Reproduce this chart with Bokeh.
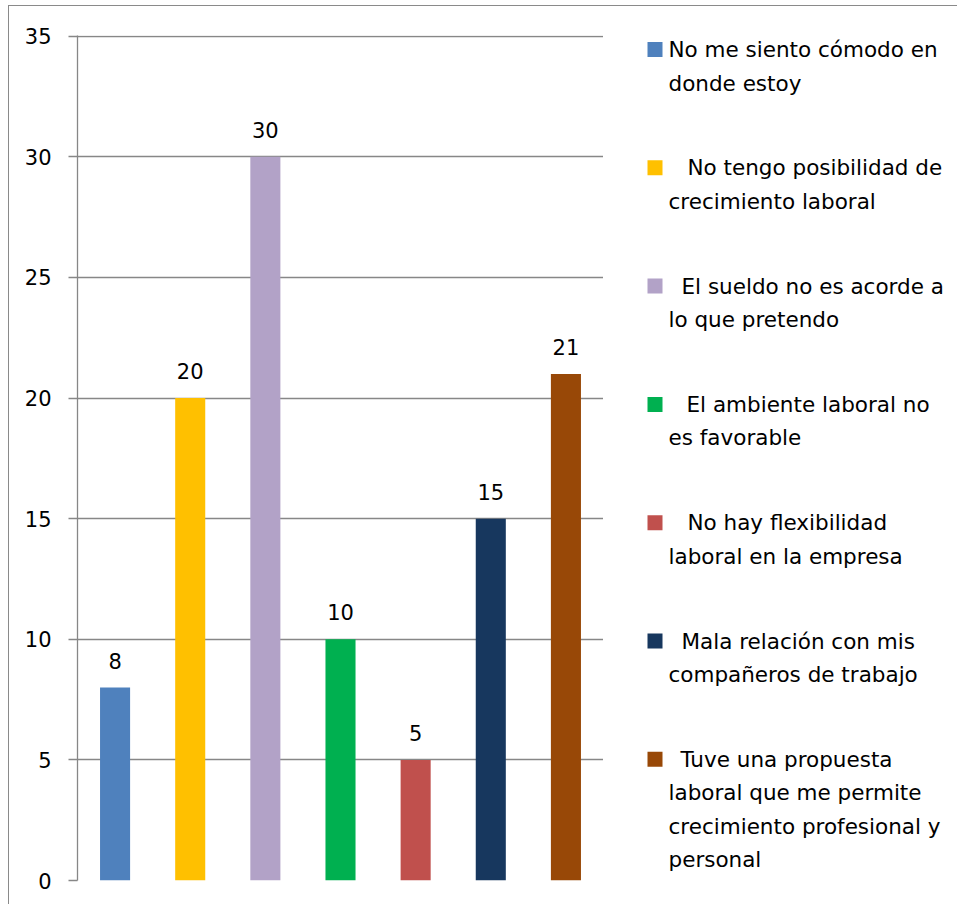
from bokeh.plotting import figure
from bokeh.layouts import row
from bokeh.models import FactorRange, Range1d, SingleIntervalTicker, ColumnDataSource
from bokeh.core.properties import value
from bokeh.embed import file_html
from bokeh.resources import INLINE

# ---- data ----
keys = ["c1", "c2", "c3", "c4", "c5", "c6", "c7"]
counts = [8, 20, 30, 10, 5, 15, 21]
colors = ["#4F81BD", "#FFC000", "#B2A2C7", "#00B050", "#C0504D", "#17375E", "#984807"]
legend_labels = [
    "No me siento cómodo en\ndonde estoy",
    "No tengo posibilidad de\ncrecimiento laboral",
    "El sueldo  no es acorde a\nlo que pretendo",
    "El ambiente laboral no\nes favorable",
    "No hay flexibilidad\nlaboral en la empresa",
    "Mala relación con mis\ncompañeros de trabajo",
    "Tuve una propuesta\nlaboral que me permite\ncrecimiento profesional y\npersonal",
]
first_line_indent = [0, 19, 13, 18, 19, 13, 12]

FONT = "DejaVu Sans"
GRID = "#878787"

# ---- chart ----
p = figure(
    width=594, height=898,
    x_range=FactorRange(*keys, range_padding=0),
    y_range=Range1d(0, 35.03),
    x_axis_location=None,
    output_backend="svg", toolbar_location=None,
    min_border_left=68, min_border_right=0, min_border_top=29, min_border_bottom=24,
)
p.outline_line_color = None
p.background_fill_color = "white"
p.border_fill_color = "white"

src = ColumnDataSource(dict(x=keys, top=counts, color=colors, label=[str(c) for c in counts]))
p.vbar(x="x", top="top", width=0.4, color="color", line_color=None, source=src)
p.text(x="x", y="top", text="label", source=src, text_align="center", text_baseline="alphabetic",
       y_offset=-27, text_font=value(FONT), text_font_size="21px", text_color="#000000")

p.yaxis.ticker = SingleIntervalTicker(interval=5)
p.yaxis.axis_line_color = GRID
p.yaxis.axis_line_width = 1.3
p.yaxis.major_tick_line_color = GRID
p.yaxis.major_tick_line_width = 1.3
p.yaxis.major_tick_out = 9
p.yaxis.major_tick_in = 0
p.yaxis.minor_tick_line_color = None
p.yaxis.major_label_standoff = 17
p.yaxis.major_label_text_font = FONT
p.yaxis.major_label_text_font_size = "21px"
p.yaxis.major_label_text_color = "#000000"

p.xgrid.grid_line_color = None
p.ygrid.grid_line_color = GRID
p.ygrid.grid_line_width = 1.3

# ---- legend panel: ranges expressed in page pixel coordinates (y downward) ----
lg = figure(
    width=354, height=898,
    x_range=Range1d(603, 957), y_range=Range1d(880, 35),
    output_backend="svg", toolbar_location=None,
    min_border_left=0, min_border_right=0, min_border_top=29, min_border_bottom=24,
    x_axis_location=None, y_axis_location=None,
)
lg.outline_line_color = None
lg.xgrid.visible = False
lg.ygrid.visible = False
lg.border_fill_color = "white"

mx, my, tx, ty, tt = [], [], [], [], []
for i, lab in enumerate(legend_labels):
    cy = 49 + i * 118.3
    mx.append(654.5)
    my.append(cy)
    for j, line in enumerate(lab.split("\n")):
        dx = first_line_indent[i] if j == 0 else 0
        tx.append(668 + dx)
        ty.append(cy + j * 33.5)
        tt.append(line)

lg.rect(x=mx, y=my, width=15, height=15, fill_color=colors, line_color=None)
lg.text(x=tx, y=ty, text=tt, text_font=value(FONT), text_font_size="21.5px",
        text_color="#000000", text_baseline="middle", text_align="left")

layout = row(p, lg, spacing=0, margin=(5, 0, 0, 8),
             styles={"border-left": "1px solid #8a8a8a", "border-top": "1px solid #8a8a8a"})

open("out.html", "w").write(file_html(layout, INLINE))
